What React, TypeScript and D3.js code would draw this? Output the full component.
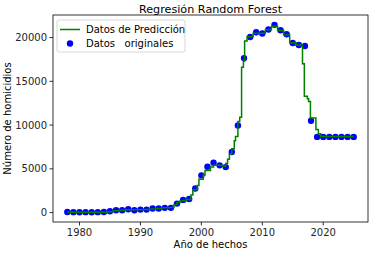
import React from "react";
import * as d3 from "d3";

const years = d3.range(1978, 2026);
const homicidios = [
  60, 50, 40, 50, 40, 50, 60, 150, 265, 265, 380, 260, 340, 340, 460, 460,
  540, 540, 1030, 1450, 1550, 2760, 4250, 5240, 5700, 5400, 5200, 6930,
  9950, 17650, 20070, 20600, 20460, 20920, 21450, 20840, 20380, 19380,
  19150, 19030, 10490, 8650, 8650, 8650, 8650, 8650, 8650, 8650,
];

// Step prediction: level predY[i] holds from predX[i] to predX[i+1]
const predX = [
  1978, 1984.5, 1985.5, 1986.5, 1987.5, 1989.5, 1990.5, 1991.5, 1992.5, 1993.5,
  1994.5, 1995.5, 1996.0, 1996.5, 1997.5, 1998.3, 1998.6, 1999.3, 1999.6,
  2000.3, 2000.6, 2001.5, 2002.0, 2003.5, 2004.0, 2004.3, 2004.6, 2005.0,
  2005.4, 2005.6, 2006.0, 2006.3, 2006.6, 2006.9, 2007.1, 2007.5, 2008.5,
  2009.5, 2010.5, 2011.5, 2012.5, 2013.5, 2014.5, 2015.5, 2016.6, 2016.9,
  2017.4, 2017.6, 2017.9, 2018.8, 2019.2, 2019.6, 2025,
];
const predY = [
  50, 100, 200, 260, 330, 320, 350, 420, 480, 540, 580, 900, 1150, 1350, 1500,
  2000, 2600, 3100, 3800, 4300, 4800, 5200, 5400, 5300, 5600, 6100, 6700, 7300,
  8200, 8700, 10400, 10900, 16600, 17300, 19600, 20100, 20500, 20500, 20900,
  21300, 20800, 20300, 19400, 19150, 17000, 13300, 13000, 12700, 10800, 9500,
  9000, 8700, 8700,
];

const xTicks = [1980, 1990, 2000, 2010, 2020];
const yTicks = [0, 5000, 10000, 15000, 20000];

const W = 377;
const H = 253;
const L = 53, R = 368, T = 15, B = 222;
const FONT = "DejaVu Sans, sans-serif";

export default function App() {
  const x = d3.scaleLinear().domain([1975.65, 2027.35]).range([L, R]);
  const y = d3.scaleLinear().domain([-1075, 22575]).range([B, T]);
  const pts: [number, number][] = predX.map((px, i) => [px, predY[i]]);
  const line = d3
    .line<[number, number]>()
    .x((d) => x(d[0]))
    .y((d) => y(d[1]))
    .curve(d3.curveStepAfter);

  return (
    <svg
      width={W}
      height={H}
      style={{ position: "absolute", left: 0, top: 0, background: "#fff" }}
      fontFamily={FONT}
    >
      <rect x={0} y={0} width={W} height={H} fill="#fff" />
      <text x={(L + R) / 2} y={13} textAnchor="middle" fontSize={11.2} fill="#000">
        Regresión Random Forest
      </text>
      <g>
        {homicidios.map((v, i) => (
          <circle key={i} cx={x(years[i])} cy={y(v)} r={3.2} fill="#0000ff" />
        ))}
      </g>
      <path d={line(pts) || ""} fill="none" stroke="#008000" strokeWidth={1.5} />
      <rect x={L} y={T} width={R - L} height={B - T} fill="none" stroke="#000" strokeWidth={0.8} />
      {xTicks.map((t) => (
        <g key={t}>
          <line x1={x(t)} x2={x(t)} y1={B} y2={B + 3.5} stroke="#000" strokeWidth={0.8} />
          <text x={x(t)} y={B + 14} textAnchor="middle" fontSize={10} fill="#262626">
            {t}
          </text>
        </g>
      ))}
      {yTicks.map((t) => (
        <g key={t}>
          <line x1={L - 3.5} x2={L} y1={y(t)} y2={y(t)} stroke="#000" strokeWidth={0.8} />
          <text x={L - 6} y={y(t) + 3.5} textAnchor="end" fontSize={10} fill="#262626">
            {t}
          </text>
        </g>
      ))}
      <text x={(L + R) / 2} y={248} textAnchor="middle" fontSize={10} fill="#000">
        Año de hechos
      </text>
      <text
        transform={`translate(11,${(T + B) / 2}) rotate(-90)`}
        textAnchor="middle"
        fontSize={10}
        fill="#000"
      >
        Número de homicidios
      </text>
      <g>
        <rect x={57} y={20} width={128} height={32} rx={2} fill="#fff" fillOpacity={0.8} stroke="#ccc" strokeWidth={0.8} />
        <line x1={60} x2={80} y1={29.5} y2={29.5} stroke="#008000" strokeWidth={1.5} />
        <text x={86} y={33} fontSize={10} fill="#000">Datos de Predicción</text>
        <circle cx={70} cy={43.5} r={3.2} fill="#0000ff" />
        <text x={86} y={47} fontSize={10} fill="#000" style={{ whiteSpace: "pre" }}>
          {"Datos   originales"}
        </text>
      </g>
    </svg>
  );
}
